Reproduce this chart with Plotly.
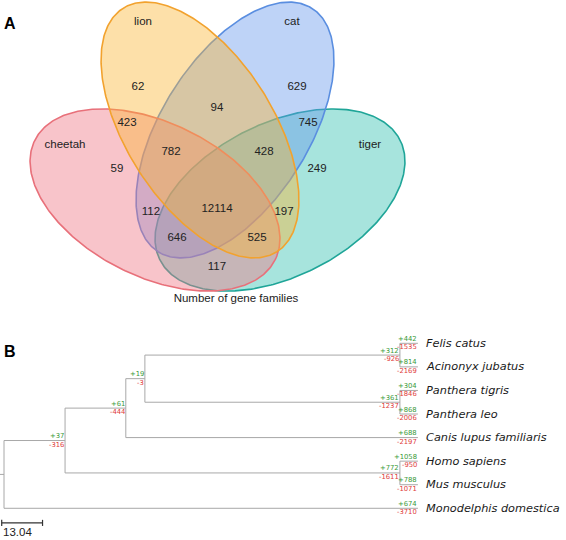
import numpy as np
import plotly.graph_objects as go

# ================= DATA =================
# Panel A: Venn diagram of gene families
set_names = ["cheetah", "lion", "cat", "tiger"]
region_sets = ["lion", "cat", "lion&cat", "cheetah&lion", "cat&tiger",
               "cheetah&lion&cat", "lion&cat&tiger", "cheetah", "tiger",
               "cheetah&cat", "cheetah&lion&cat&tiger", "lion&tiger",
               "cheetah&cat&tiger", "cheetah&lion&tiger", "cheetah&tiger"]
region_counts = [62, 629, 94, 423, 745, 782, 428, 59, 249, 112, 12114, 197, 646, 525, 117]
venn_caption = "Number of gene families"

# Panel B: phylogeny with gene family gains / losses
leaves = ["Felis catus", "Acinonyx jubatus", "Panthera tigris", "Panthera leo",
          "Canis lupus familiaris", "Homo sapiens", "Mus musculus", "Monodelphis domestica"]
leaf_gain = [442, 814, 304, 868, 688, 1058, 788, 674]
leaf_loss = [1535, 2169, 1846, 2006, 2197, 950, 1071, 3710]
node_names = ["cat_cheetah", "tiger_lion", "felidae", "carnivora", "human_mouse", "eutheria", "root"]
node_children = [["Felis catus", "Acinonyx jubatus"], ["Panthera tigris", "Panthera leo"],
                 ["cat_cheetah", "tiger_lion"], ["felidae", "Canis lupus familiaris"],
                 ["Homo sapiens", "Mus musculus"], ["carnivora", "human_mouse"],
                 ["eutheria", "Monodelphis domestica"]]
node_heights = [5.75, 5.75, 87.2, 93.3, 5.75, 112.7, 132.2]
node_gain = [312, 361, 19, 61, 772, 37, None]
node_loss = [926, 1237, 3, 444, 1611, 316, None]
scale_bar_length = 13.04

# ================= GEOMETRY / STYLE =================
W, H = 566, 540
# ellipse geometry (pixel space, y downwards): cx, cy, a, b, angle
ellipse_geom = {
    "cheetah": (155, 200, 134.2, 76.8, 26.4),
    "lion": (200, 130, 144.0, 73.6, 57.7),
    "cat": (235, 130, 144.0, 73.6, 122.3),
    "tiger": (280, 200, 134.2, 76.8, 153.6),
}
ellipse_line = {"cheetah": "#E8707A", "lion": "#F2A22E", "cat": "#5A8EE0", "tiger": "#1FA598"}
ellipse_fill = {"cheetah": "rgba(238,118,132,0.43)", "lion": "rgba(250,180,50,0.42)",
                "cat": "rgba(100,150,235,0.42)", "tiger": "rgba(45,190,175,0.42)"}
draw_order = ["tiger", "cat", "cheetah", "lion"]
set_label_xy = {"cheetah": (65, 145), "lion": (143, 22), "cat": (292, 22), "tiger": (370, 145)}
region_xy = [(138, 87), (297, 87), (217, 108), (127, 123), (308, 123), (171, 152), (264, 152),
             (117, 169), (317, 169), (151, 212), (217, 209), (284, 212), (177, 238), (257, 238),
             (217, 267)]
caption_xy = (236, 299)

VFONT = "Liberation Sans, Arial, sans-serif"
TFONT = "DejaVu Sans, Verdana, sans-serif"
GREEN = "#3A9A3A"
RED = "#E03A3A"

fig = go.Figure()

# ---- Venn ellipses ----
t = np.linspace(0, 2 * np.pi, 361)
def ell(name):
    cx, cy, a, b, ang = ellipse_geom[name]
    th = np.deg2rad(ang)
    x = cx + a * np.cos(t) * np.cos(th) - b * np.sin(t) * np.sin(th)
    y = cy + a * np.cos(t) * np.sin(th) + b * np.sin(t) * np.cos(th)
    return x, y

for name in draw_order:
    x, y = ell(name)
    fig.add_trace(go.Scatter(x=x, y=y, mode="lines", fill="toself",
                             fillcolor=ellipse_fill[name],
                             line=dict(width=1.6, color=ellipse_line[name]),
                             hoverinfo="skip", showlegend=False))

fig.add_trace(go.Scatter(x=[p[0] for p in region_xy], y=[p[1] for p in region_xy],
                         mode="text", text=[str(c) for c in region_counts],
                         textfont=dict(family=VFONT, size=11.5, color="#222222"),
                         hoverinfo="skip", showlegend=False))
fig.add_trace(go.Scatter(x=[set_label_xy[n][0] for n in set_names],
                         y=[set_label_xy[n][1] for n in set_names],
                         mode="text", text=set_names,
                         textfont=dict(family=VFONT, size=11.5, color="#222222"),
                         hoverinfo="skip", showlegend=False))
fig.add_trace(go.Scatter(x=[caption_xy[0]], y=[caption_xy[1]], mode="text", text=[venn_caption],
                         textfont=dict(family=VFONT, size=11.5, color="#222222"),
                         hoverinfo="skip", showlegend=False))

# ---- Tree ----
root_h = node_heights[-1]
height = {l: 0.0 for l in leaves}
ypos = {l: i for i, l in enumerate(leaves)}
for n, h in zip(node_names, node_heights):
    height[n] = h
children = dict(zip(node_names, node_children))

def get_y(n):
    if n in ypos:
        return ypos[n]
    ys = [get_y(c) for c in children[n]]
    ypos[n] = (ys[0] + ys[-1]) / 2
    return ypos[n]
for n in node_names:
    get_y(n)
xpos = {n: root_h - height[n] for n in height}

lx, ly = [], []
for n in node_names:
    cs = children[n]
    lx += [xpos[n], xpos[n], None]
    ly += [ypos[cs[0]], ypos[cs[-1]], None]
    for c in cs:
        lx += [xpos[n], xpos[c], None]
        ly += [ypos[c], ypos[c], None]
# root stub
lx += [-1.3, 0, None]
ly += [ypos["root"], ypos["root"], None]
fig.add_trace(go.Scatter(x=lx, y=ly, mode="lines", xaxis="x2", yaxis="y2",
                         line=dict(color="#A8A8A8", width=1), hoverinfo="skip", showlegend=False))

# scale bar
sb_x0 = -0.73
sb_y = 7.62
fig.add_trace(go.Scatter(x=[sb_x0, sb_x0 + scale_bar_length, None, sb_x0, sb_x0, None,
                            sb_x0 + scale_bar_length, sb_x0 + scale_bar_length],
                         y=[sb_y, sb_y, None, sb_y - 0.13, sb_y + 0.13, None, sb_y - 0.13, sb_y + 0.13],
                         mode="lines", xaxis="x2", yaxis="y2",
                         line=dict(color="#333333", width=1.2), hoverinfo="skip", showlegend=False))

annotations = []
def num_ann(x, y, txt, color, ysh):
    annotations.append(dict(x=x, y=y, xref="x2", yref="y2", text=txt, showarrow=False,
                            xanchor="right", yanchor="middle", xshift=0, yshift=ysh,
                            font=dict(family=TFONT, size=6.8, color=color), borderpad=0))

for l, g, lo in zip(leaves, leaf_gain, leaf_loss):
    num_ann(xpos[l], ypos[l], "+%d" % g, GREEN, 4.5)
    num_ann(xpos[l], ypos[l], "-%d" % lo, RED, -4)
    annotations.append(dict(x=xpos[l], y=ypos[l], xref="x2", yref="y2", text="<i>%s</i>" % l,
                            showarrow=False, xanchor="left", yanchor="middle", xshift=6,
                            font=dict(family=TFONT, size=11.3, color="#1a1a1a")))
for n, g, lo in zip(node_names, node_gain, node_loss):
    if g is None:
        continue
    num_ann(xpos[n], ypos[n], "+%d" % g, GREEN, 4.5)
    num_ann(xpos[n], ypos[n], "-%d" % lo, RED, -4)

annotations.append(dict(x=sb_x0, y=8.0, xref="x2", yref="y2", text="%.2f" % scale_bar_length,
                        showarrow=False, xanchor="left", yanchor="middle", xshift=-1,
                        font=dict(family=VFONT, size=11.5, color="#222222")))

# panel letters
annotations.append(dict(x=10, y=23, xref="x", yref="y", text="<b>A</b>", showarrow=False,
                        xanchor="center", yanchor="middle",
                        font=dict(family=VFONT, size=16, color="#000000")))
annotations.append(dict(x=10, y=351, xref="x", yref="y", text="<b>B</b>", showarrow=False,
                        xanchor="center", yanchor="middle",
                        font=dict(family=VFONT, size=16, color="#000000")))

# pixel mapping for tree axes
PX_PER_UNIT = 3.131
X0_PX = 4.0
LEAF0_PX = 343.3
LEAF_STEP = 23.57
x2_range = [-X0_PX / PX_PER_UNIT, (W - X0_PX) / PX_PER_UNIT]
y2_range = [(H - LEAF0_PX) / LEAF_STEP, -LEAF0_PX / LEAF_STEP]

fig.update_layout(
    width=W, height=H, margin=dict(l=0, r=0, t=0, b=0),
    paper_bgcolor="white", plot_bgcolor="white", showlegend=False,
    xaxis=dict(range=[0, W], visible=False, domain=[0, 1], fixedrange=True),
    yaxis=dict(range=[H, 0], visible=False, domain=[0, 1], fixedrange=True),
    xaxis2=dict(range=x2_range, visible=False, overlaying="x", anchor="y2", fixedrange=True),
    yaxis2=dict(range=y2_range, visible=False, overlaying="y", anchor="x2", fixedrange=True),
    annotations=annotations,
)

fig.write_html("out.html", config={"displayModeBar": False},
               post_script="document.body.style.margin='0px';document.body.style.padding='0px';")
